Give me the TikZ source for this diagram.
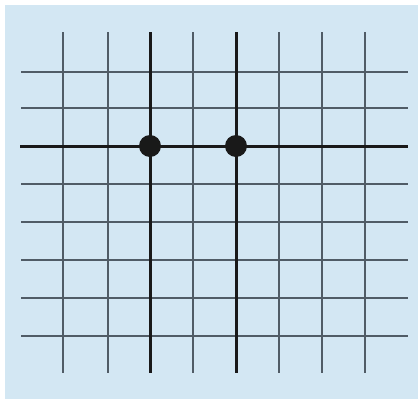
\documentclass[tikz,border=0pt]{standalone}
\usetikzlibrary{calc}
\definecolor{bgblue}{HTML}{D3E7F3}
\definecolor{gridgray}{HTML}{505C66}
\begin{document}
\begin{tikzpicture}[x=1pt,y=-1pt,
  thin grid/.style={draw=gridgray,line width=1.6pt},
  thick grid/.style={draw=black!90,line width=3pt},
  junction/.style={circle,fill=black!90,inner sep=0pt,minimum size=22pt}]
\useasboundingbox (0,0) rectangle (418,402);
\fill[white] (0,0) rectangle (418,402);
\fill[bgblue] (5,5) rectangle (418,399);
% thin horizontal lines
\foreach \y in {72,108,184,222,260,298,336}
  \draw[thin grid] (21,\y) -- (408,\y);
% thin vertical lines
\foreach \x in {63,108,193,279,322,365}
  \draw[thin grid] (\x,32) -- (\x,373);
% thick lines
\coordinate (hL) at (20,146);
\coordinate (hR) at (408,146);
\coordinate (v1t) at (150,32);
\coordinate (v1b) at (150,373);
\coordinate (v2t) at (236,32);
\coordinate (v2b) at (236,373);
\draw[thick grid] (hL) -- (hR);
\draw[thick grid] (v1t) -- (v1b);
\draw[thick grid] (v2t) -- (v2b);
\node[junction] (j1) at (150,146) {};
\node[junction] (j2) at (236,146) {};
\end{tikzpicture}
\end{document}
